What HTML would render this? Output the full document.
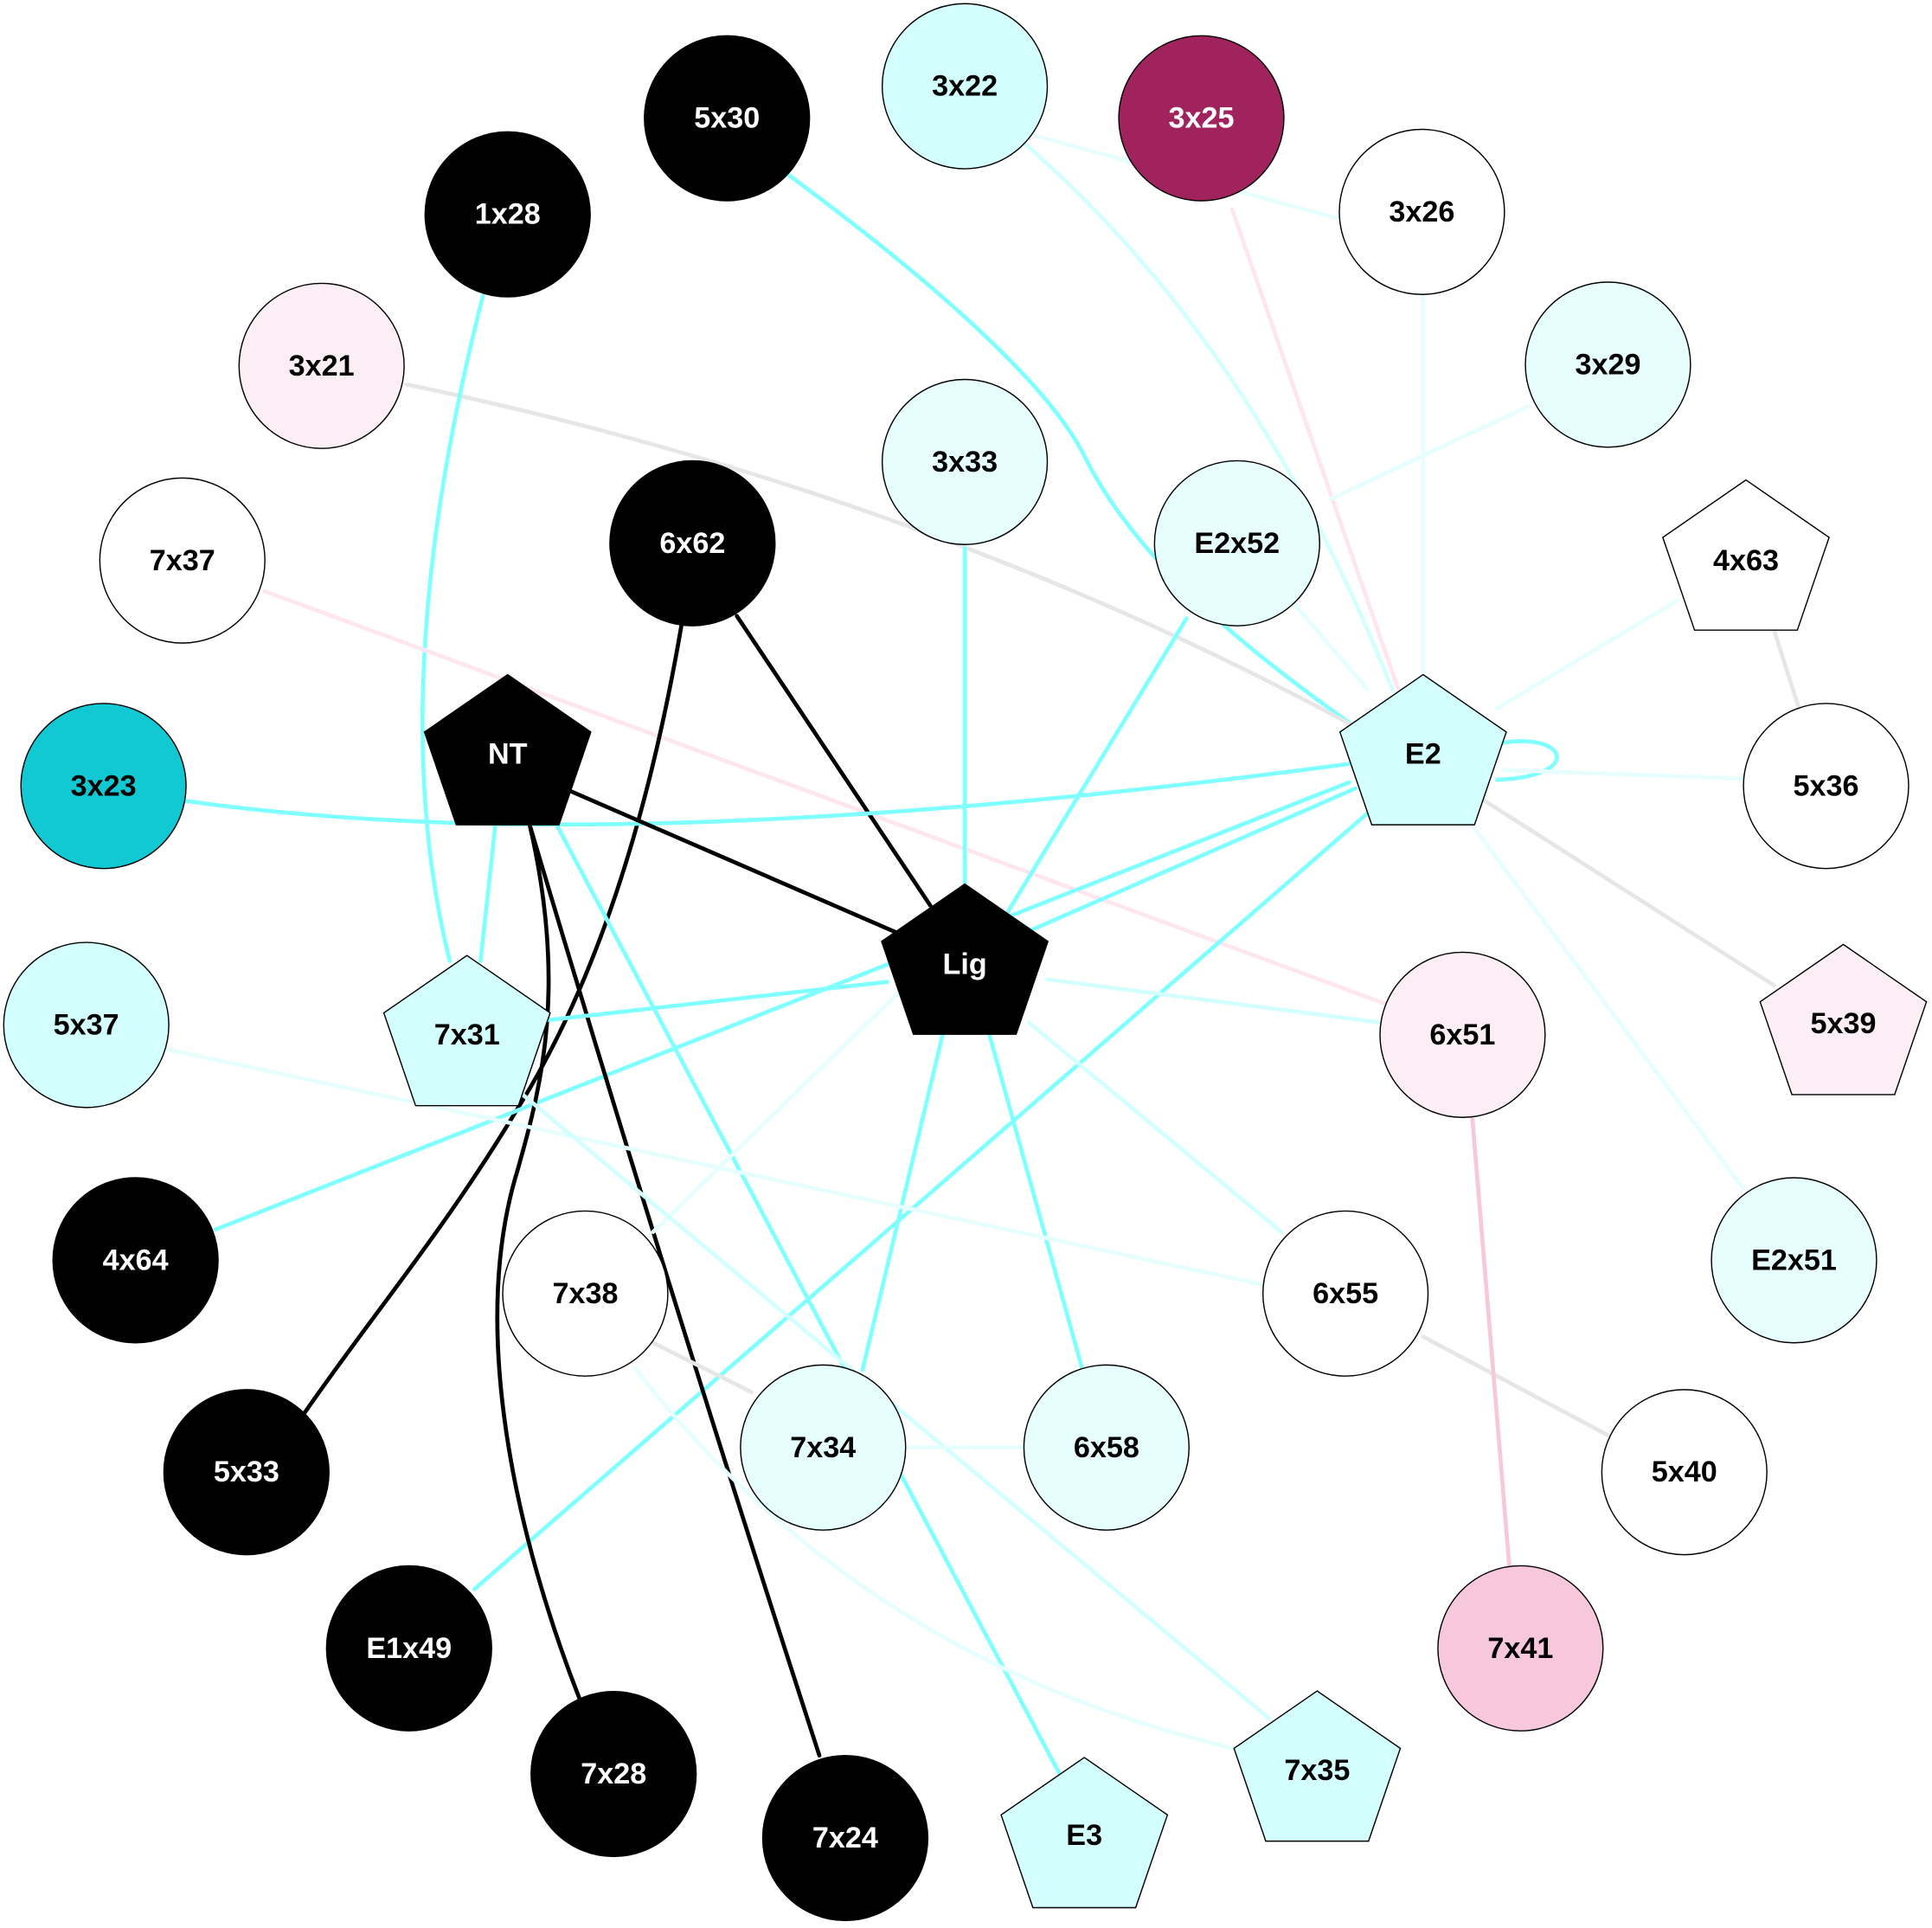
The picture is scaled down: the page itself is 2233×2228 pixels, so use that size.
<!DOCTYPE html>
<html><head><style>html,body{margin:0;padding:0;background:#fff}svg{display:block}</style></head>
<body>
<svg width="2233" height="2228" viewBox="0 0 1568 1565" preserveAspectRatio="none" xmlns="http://www.w3.org/2000/svg">
<g fill="none" stroke-linecap="round" stroke-width="3.3">
<path d="M640,142 C800,260 860,330 880,370 C920,450 1000,520 1100,590" stroke="#80ffff"/>
<path d="M830,115 Q1020,280 1130,560" stroke="#d4ffff"/>
<path d="M840,110 L1088,178" stroke="#e6fefe"/>
<path d="M1000,170 L1135,560" stroke="#fde6ef"/>
<path d="M1155,240 L1155,548" stroke="#e6fefe"/>
<path d="M1240,330 L1080,405" stroke="#e6fefe"/>
<path d="M330,312 Q750,400 1100,590" stroke="#e6e6e6"/>
<path d="M392,240 Q310,560 365,780" stroke="#80ffff"/>
<path d="M215,480 L1125,815" stroke="#fde6ef"/>
<path d="M783,445 L783,718" stroke="#80ffff"/>
<path d="M598,500 L755,735" stroke="#000"/>
<path d="M553,508 C520,700 470,820 420,900 C360,1000 300,1070 245,1150" stroke="#000"/>
<path d="M963,502 L815,745" stroke="#80ffff"/>
<path d="M1050,490 L1110,560" stroke="#e6fefe"/>
<path d="M1362,487 L1215,575" stroke="#e6fefe"/>
<path d="M1440,512 L1460,575" stroke="#e6e6e6"/>
<path d="M1210,605 C1270,590 1290,630 1215,633" stroke="#80ffff"/>
<path d="M1220,625 L1415,632" stroke="#e6fefe"/>
<path d="M150,650 Q500,700 1095,620" stroke="#80ffff"/>
<path d="M1100,640 L830,758" stroke="#80ffff"/>
<path d="M1095,635 L175,998" stroke="#80ffff"/>
<path d="M1110,660 L385,1290" stroke="#80ffff"/>
<path d="M1205,650 L1440,800" stroke="#e6e6e6"/>
<path d="M1195,670 L1415,965" stroke="#e6fefe"/>
<path d="M458,640 L730,758" stroke="#000"/>
<path d="M402,670 L390,780" stroke="#80ffff"/>
<path d="M430,670 C460,800 440,880 420,950 C380,1080 420,1250 470,1378" stroke="#000"/>
<path d="M430,670 Q540,1040 665,1425" stroke="#000"/>
<path d="M452,670 L860,1440" stroke="#80ffff"/>
<path d="M720,797 L445,828" stroke="#80ffff"/>
<path d="M850,795 L1120,830" stroke="#d4ffff"/>
<path d="M730,805 L530,1000" stroke="#e6fefe"/>
<path d="M765,840 L700,1112" stroke="#80ffff"/>
<path d="M803,840 L878,1110" stroke="#80ffff"/>
<path d="M835,830 L1040,1000" stroke="#d4ffff"/>
<path d="M137,852 L1026,1043" stroke="#e6fefe"/>
<path d="M420,885 L1030,1395" stroke="#d4ffff"/>
<path d="M530,1090 L610,1130" stroke="#e6e6e6"/>
<path d="M515,1110 Q700,1350 1005,1420" stroke="#e6fefe"/>
<path d="M735,1175 L830,1175" stroke="#e6fefe"/>
<path d="M1155,1085 L1305,1165" stroke="#e6e6e6"/>
<path d="M1195,908 L1225,1272" stroke="#f7c8dc"/>
</g>
<g stroke="#000" stroke-width="1">
<circle cx="590" cy="96" r="67" fill="#000"/>
<circle cx="783" cy="70" r="67" fill="#d4ffff"/>
<circle cx="975" cy="96" r="67" fill="#a0235e"/>
<circle cx="412" cy="174" r="67" fill="#000"/>
<circle cx="1154" cy="172" r="67" fill="#fff"/>
<circle cx="261" cy="297" r="67" fill="#fbeef4"/>
<circle cx="1305" cy="296" r="67" fill="#e6fefe"/>
<circle cx="783" cy="375" r="67" fill="#e6fefe"/>
<circle cx="562" cy="441" r="67" fill="#000"/>
<circle cx="1004" cy="441" r="67" fill="#e6fefe"/>
<circle cx="148" cy="455" r="67" fill="#fff"/>
<circle cx="84" cy="638" r="67" fill="#12c8d2"/>
<circle cx="1482" cy="638" r="67" fill="#fff"/>
<circle cx="70" cy="832" r="67" fill="#d4ffff"/>
<circle cx="1187" cy="840" r="67" fill="#fbeef4"/>
<circle cx="110" cy="1023" r="67" fill="#000"/>
<circle cx="1456" cy="1023" r="67" fill="#e6fefe"/>
<circle cx="475" cy="1050" r="67" fill="#fff"/>
<circle cx="1092" cy="1050" r="67" fill="#fff"/>
<circle cx="200" cy="1195" r="67" fill="#000"/>
<circle cx="668" cy="1175" r="67" fill="#e6fefe"/>
<circle cx="898" cy="1175" r="67" fill="#e6fefe"/>
<circle cx="1367" cy="1195" r="67" fill="#fff"/>
<circle cx="332" cy="1338" r="67" fill="#000"/>
<circle cx="1234" cy="1338" r="67" fill="#f7c8dc"/>
<circle cx="498" cy="1440" r="67" fill="#000"/>
<circle cx="686" cy="1492" r="67" fill="#000"/>
<polygon transform="translate(412,615)" points="0,-67.4 67.5,-20.8 41.7,54.5 -41.7,54.5 -67.5,-20.8" fill="#000"/>
<polygon transform="translate(1155,615)" points="0,-67.4 67.5,-20.8 41.7,54.5 -41.7,54.5 -67.5,-20.8" fill="#d4ffff"/>
<polygon transform="translate(1417,457)" points="0,-67.4 67.5,-20.8 41.7,54.5 -41.7,54.5 -67.5,-20.8" fill="#fff"/>
<polygon transform="translate(783,785)" points="0,-67.4 67.5,-20.8 41.7,54.5 -41.7,54.5 -67.5,-20.8" fill="#000"/>
<polygon transform="translate(379,843)" points="0,-67.4 67.5,-20.8 41.7,54.5 -41.7,54.5 -67.5,-20.8" fill="#d4ffff"/>
<polygon transform="translate(1496,834)" points="0,-67.4 67.5,-20.8 41.7,54.5 -41.7,54.5 -67.5,-20.8" fill="#fbeef4"/>
<polygon transform="translate(1069,1440)" points="0,-67.4 67.5,-20.8 41.7,54.5 -41.7,54.5 -67.5,-20.8" fill="#d4ffff"/>
<polygon transform="translate(880,1494)" points="0,-67.4 67.5,-20.8 41.7,54.5 -41.7,54.5 -67.5,-20.8" fill="#d4ffff"/>
</g>
<g font-family="Liberation Sans, sans-serif" font-weight="bold" font-size="24" text-anchor="middle" dominant-baseline="central">
<text x="590" y="96" fill="#fff">5x30</text>
<text x="783" y="70">3x22</text>
<text x="975" y="96" fill="#fff">3x25</text>
<text x="412" y="174" fill="#fff">1x28</text>
<text x="1154" y="172">3x26</text>
<text x="261" y="297">3x21</text>
<text x="1305" y="296">3x29</text>
<text x="783" y="375">3x33</text>
<text x="562" y="441" fill="#fff">6x62</text>
<text x="1004" y="441">E2x52</text>
<text x="148" y="455">7x37</text>
<text x="84" y="638">3x23</text>
<text x="1482" y="638">5x36</text>
<text x="70" y="832">5x37</text>
<text x="1187" y="840">6x51</text>
<text x="110" y="1023" fill="#fff">4x64</text>
<text x="1456" y="1023">E2x51</text>
<text x="475" y="1050">7x38</text>
<text x="1092" y="1050">6x55</text>
<text x="200" y="1195" fill="#fff">5x33</text>
<text x="668" y="1175">7x34</text>
<text x="898" y="1175">6x58</text>
<text x="1367" y="1195">5x40</text>
<text x="332" y="1338" fill="#fff">E1x49</text>
<text x="1234" y="1338">7x41</text>
<text x="498" y="1440" fill="#fff">7x28</text>
<text x="686" y="1492" fill="#fff">7x24</text>
<text x="412" y="612" fill="#fff">NT</text>
<text x="1155" y="612">E2</text>
<text x="1417" y="455">4x63</text>
<text x="783" y="783" fill="#fff">Lig</text>
<text x="379" y="840">7x31</text>
<text x="1496" y="831">5x39</text>
<text x="1069" y="1437">7x35</text>
<text x="880" y="1490">E3</text>
</g>
</svg>
</body></html>
